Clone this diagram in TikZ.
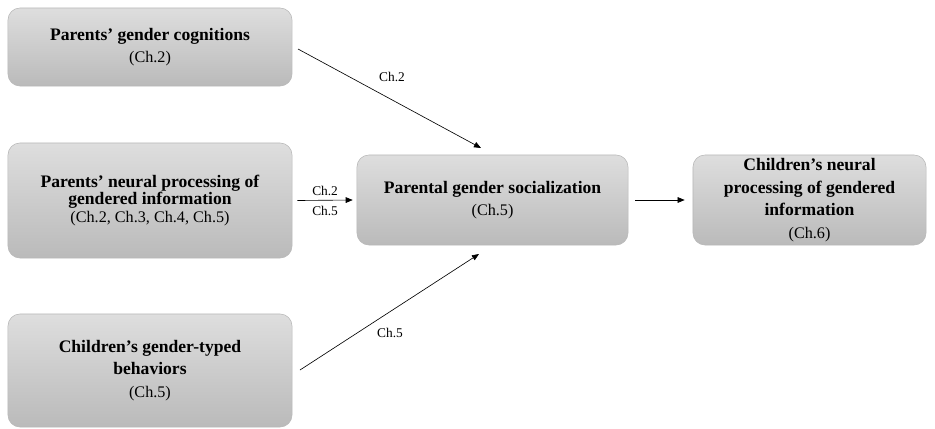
\documentclass[tikz,border=0pt]{standalone}
\usepackage{fontspec}
\setmainfont{Liberation Serif}
\usetikzlibrary{arrows.meta}
\tikzset{
  chbox/.style={draw=black!28, line width=0.4pt, rounded corners=0.3cm, top color=black!13, bottom color=black!27, align=center, inner sep=0pt, font=\fontsize{12.5}{16}\selectfont},
  chlab/.style={font=\fontsize{9.5}{11}\selectfont, inner sep=1pt},
  chline/.style={-{Triangle[length=5pt,width=4pt]}, line width=0.45pt}
}
\newcommand{\chref}[1]{{\fontsize{11.5}{14}\selectfont\mdseries #1}}

\begin{document}
\begin{tikzpicture}[x=0.025cm, y=-0.025cm]
			%%%%% START %%%%%
			\useasboundingbox (0,0) rectangle (935,428);
			
			\node[chbox, minimum width=7.1cm, minimum height=1.95cm] (cog) at (150,47) {\textbf{Parents' gender cognitions}\\\chref{(Ch.2)}};
			\node[chbox, minimum width=7.1cm, minimum height=2.875cm, font=\fontsize{12.5}{12.5}\selectfont] (pnp) at (150,200.5) {\textbf{Parents' neural processing of}\\\textbf{gendered information}\\\chref{(Ch.2, Ch.3, Ch.4, Ch.5)}};
			\node[chbox, minimum width=7.1cm, minimum height=2.825cm] (beh) at (150,370.5) {\textbf{Children's gender-typed}\\\textbf{behaviors}\\\chref{(Ch.5)}};
			
			\node[chbox, minimum width=6.775cm, minimum height=2.25cm] (soc) at (492.5,200) {\textbf{Parental gender socialization}\\\chref{(Ch.5)}};
			\node[chbox, minimum width=5.825cm, minimum height=2.25cm] (cnp) at (809.5,200) {\textbf{Children's neural}\\\textbf{processing of gendered}\\\textbf{information}\\\chref{(Ch.6)}};
			
			% free ends of the slanted arrows
			\coordinate (cogout) at (298,49);
			\coordinate (socin1) at (481,148);
			\coordinate (behout) at (300,370);
			\coordinate (socin3) at (479,254);
			
			\draw[chline] (cogout) -- (socin1);
			\draw[chline] (behout) -- (socin3);
			\draw[chline] ([xshift=3.6pt]pnp.east) -- node[chlab, above=2pt] (lab2) {Ch.2} node[chlab, below=2.7pt] (lab5) {Ch.5} ([xshift=-2.8pt]soc.west);
			\draw[chline] ([xshift=5pt]soc.east) -- ([xshift=-5.7pt]cnp.west);
			
			\node[chlab] (labcog) at (392,77) {Ch.2};
			\node[chlab] (labbeh) at (390,333) {Ch.5};
			
			%%%%% END %%%%%
\end{tikzpicture}
\end{document}
